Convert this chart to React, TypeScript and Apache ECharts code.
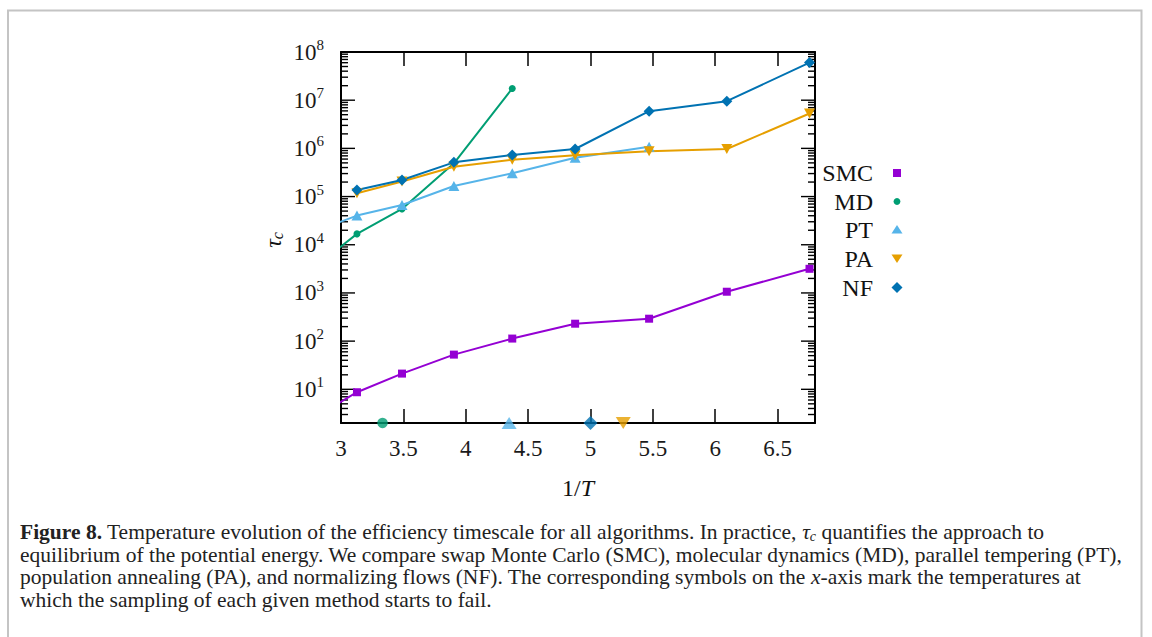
import React, { useEffect, useRef } from "react";
import * as echarts from "echarts";

// 1/T values of the temperature grid (first one lies left of the visible range)
const invT = [2.797, 3.128, 3.489, 3.905, 4.373, 4.877, 5.47, 6.093, 6.756];
const smcTau = [2.67, 8.7, 21.2, 52.5, 113, 230, 292, 1060, 3170];
const mdTau = [3550, 16800, 55400, 490000, 17500000];
const ptTau = [19200, 40300, 67000, 166000, 304000, 639000, 1080000];
const paTau = [null, 117000, 206000, 416000, 580000, 716000, 867000, 970000, 5300000];
const nfTau = [null, 137000, 220000, 513000, 727000, 970000, 5920000, 9530000, 60300000];
// temperatures (1/T) at which each method starts to fail
const failMD = 3.333;
const failPT = 4.348;
const failNF = 5.0;
const failPA = 5.263;

const xTickValues = [3, 3.5, 4, 4.5, 5, 5.5, 6, 6.5];
const yDecades = [0, 1, 2, 3, 4, 5, 6, 7, 8];

const C = {
  SMC: "#9400d3",
  MD: "#009e73",
  PT: "#56b4e9",
  PA: "#e69f00",
  NF: "#0072b2",
};
const SERIF = "Liberation Serif";

function pairs(vals: (number | null)[]) {
  const out: number[][] = [];
  vals.forEach((v, i) => {
    if (v != null) out.push([invT[i], v]);
  });
  return out;
}

// y-axis tick values (minor 2..9 and major decades) for log ticks
function yTickData() {
  const out: number[][] = [];
  yDecades.forEach((d) => {
    for (let m = 1; m <= 9; m++) {
      const v = m * Math.pow(10, d);
      if (v > 2.0001 && v < 0.9999e8) out.push([v, m === 1 ? 1 : 0]);
    }
  });
  return out;
}

export default function App() {
  const ref = useRef<HTMLDivElement>(null);
  useEffect(() => {
    if (!ref.current) return;
    const chart = echarts.init(ref.current, null, { renderer: "svg" });
    const lineSeries = (name: string, vals: (number | null)[], symbol: string, size: any, rotate = 0) => ({
      name,
      type: "line",
      data: pairs(vals),
      symbol,
      symbolSize: size,
      symbolRotate: rotate,
      showSymbol: true,
      showAllSymbol: true,
      clip: true,
      itemStyle: { color: (C as any)[name] },
      lineStyle: { color: (C as any)[name], width: 2 },
      z: 3,
    });
    const failSeries = (name: string, x: number, symbol: string, size: any, rotate = 0) => ({
      name: name + "-fail",
      type: "scatter",
      data: [[x, 2]],
      symbol,
      symbolSize: size,
      symbolRotate: rotate,
      clip: false,
      itemStyle: { color: (C as any)[name] },
      z: 6,
    });
    const legendRows = [
      { name: "SMC", y: 173 },
      { name: "MD", y: 201.5 },
      { name: "PT", y: 229.5 },
      { name: "PA", y: 258.5 },
      { name: "NF", y: 287.5 },
    ];
    const mx = 897;
    const captionLines = [
      "{b|Figure 8.} Temperature evolution of the efficiency timescale for all algorithms. In practice, {i|τ}{s|c} quantifies the approach to",
      "equilibrium of the potential energy. We compare swap Monte Carlo (SMC), molecular dynamics (MD), parallel tempering (PT),",
      "population annealing (PA), and normalizing flows (NF). The corresponding symbols on the {i|x}-axis mark the temperatures at",
      "which the sampling of each given method starts to fail.",
    ];
    const capY = [531.7, 554.5, 577.3, 600];
    const CAP = 21.5;
    const capRich = {
      b: { fontFamily: SERIF, fontSize: CAP, fontWeight: "bold", fill: "#222" },
      i: { fontFamily: SERIF, fontSize: CAP, fontStyle: "italic", fill: "#222" },
      s: { fontFamily: SERIF, fontSize: 14, fontStyle: "italic", fill: "#222", padding: [9, 0, 0, 0] },
    };

    const option: any = {
      animation: false,
      backgroundColor: "#ffffff",
      textStyle: { fontFamily: SERIF },
      grid: { left: 341, top: 52, width: 474, height: 371, containLabel: false },
      xAxis: [
        {
          type: "value",
          min: 3,
          max: 6.8,
          interval: 0.5,
          position: "bottom",
          axisLine: { show: true, onZero: false, lineStyle: { color: "#000", width: 2 } },
          axisTick: { show: true, inside: true, length: 14, lineStyle: { color: "#000", width: 1.5 } },
          splitLine: { show: false },
          axisLabel: {
            show: true,
            margin: 14,
            fontFamily: SERIF,
            fontSize: 23,
            color: "#1a1a1a",
            formatter: (v: number) => {
              const hit = xTickValues.find((t) => Math.abs(t - v) < 1e-6);
              return hit == null ? "" : String(hit);
            },
          },
        },
        {
          type: "value",
          min: 3,
          max: 6.8,
          interval: 0.5,
          position: "top",
          axisLine: { show: true, onZero: false, lineStyle: { color: "#000", width: 2 } },
          axisTick: { show: true, inside: true, length: 14, lineStyle: { color: "#000", width: 1.5 } },
          splitLine: { show: false },
          axisLabel: { show: false },
        },
      ],
      yAxis: [
        {
          type: "log",
          logBase: 10,
          min: 2,
          max: 1e8,
          position: "left",
          axisLine: { show: true, lineStyle: { color: "#000", width: 2 } },
          axisTick: { show: false },
          splitLine: { show: false },
          axisLabel: {
            margin: 17,
            color: "#1a1a1a",
            fontFamily: SERIF,
            fontSize: 23,
            formatter: (v: number) => {
              const l = Math.log10(v);
              const e = Math.round(l);
              if (Math.abs(l - e) > 1e-6 || !yDecades.includes(e) || e < 1) return "";
              return "{b|10}{s|" + e + "}";
            },
            rich: {
              b: { fontFamily: SERIF, fontSize: 23, color: "#1a1a1a" },
              s: { fontFamily: SERIF, fontSize: 15, color: "#1a1a1a", padding: [0, 0, 14, 0] },
            },
          },
        },
        {
          type: "log",
          logBase: 10,
          min: 2,
          max: 1e8,
          position: "right",
          axisLine: { show: true, lineStyle: { color: "#000", width: 2 } },
          axisTick: { show: false },
          splitLine: { show: false },
          axisLabel: { show: false },
        },
      ],
      series: [
        {
          name: "yticks",
          type: "custom",
          xAxisIndex: 0,
          yAxisIndex: 0,
          silent: true,
          data: yTickData(),
          z: 2,
          renderItem: (params: any, api: any) => {
            const v = api.value(0);
            const major = api.value(1) === 1;
            const p = api.coord([3, v]);
            const cs = params.coordSys;
            const len = major ? 14 : 7;
            const style = { stroke: "#000", lineWidth: 1.4 };
            return {
              type: "group",
              children: [
                { type: "line", shape: { x1: cs.x, y1: p[1], x2: cs.x + len, y2: p[1] }, style },
                { type: "line", shape: { x1: cs.x + cs.width - len, y1: p[1], x2: cs.x + cs.width, y2: p[1] }, style },
              ],
            };
          },
        },
        lineSeries("SMC", smcTau, "rect", 8),
        lineSeries("MD", mdTau, "circle", 7),
        lineSeries("PT", ptTau, "triangle", [11, 10]),
        lineSeries("PA", paTau, "triangle", [11, 10], 180),
        lineSeries("NF", nfTau, "diamond", 11),
        failSeries("MD", failMD, "circle", 10.5),
        failSeries("PT", failPT, "triangle", [15, 12]),
        failSeries("NF", failNF, "diamond", 14),
        failSeries("PA", failPA, "triangle", [15, 12], 180),
      ],
      graphic: [
        {
          type: "rect",
          silent: true,
          shape: { x: 8, y: 10.5, width: 1133.5, height: 720 },
          style: { fill: "none", stroke: "#c4c4c4", lineWidth: 2 },
        },
        {
          type: "text",
          x: 273,
          y: 240,
          rotation: Math.PI / 2,
          style: {
            text: "{a|τ}{b|c}",
            align: "center",
            verticalAlign: "middle",
            rich: {
              a: { fontFamily: SERIF, fontSize: 24, fontStyle: "italic", fill: "#111" },
              b: { fontFamily: SERIF, fontSize: 16, fontStyle: "italic", fill: "#111", padding: [8, 0, 0, 0] },
            },
          },
        },
        {
          type: "text",
          x: 578,
          y: 488,
          style: {
            text: "{a|1/}{b|T}",
            align: "center",
            verticalAlign: "middle",
            rich: {
              a: { fontFamily: SERIF, fontSize: 24, fill: "#111" },
              b: { fontFamily: SERIF, fontSize: 24, fontStyle: "italic", fill: "#111" },
            },
          },
        },
        ...legendRows.map((r) => ({
          type: "text",
          x: 873,
          y: r.y,
          style: {
            text: r.name,
            align: "right",
            verticalAlign: "middle",
            fontFamily: SERIF,
            fontSize: 24,
            fill: "#111",
          },
        })),
        { type: "rect", shape: { x: mx - 4, y: 169, width: 8, height: 8 }, style: { fill: C.SMC } },
        { type: "circle", shape: { cx: mx, cy: 201.5, r: 3.4 }, style: { fill: C.MD } },
        {
          type: "polygon",
          shape: { points: [[mx - 5.5, 233.5], [mx + 5.5, 233.5], [mx, 225]] },
          style: { fill: C.PT },
        },
        {
          type: "polygon",
          shape: { points: [[mx - 5.5, 254.5], [mx + 5.5, 254.5], [mx, 263]] },
          style: { fill: C.PA },
        },
        {
          type: "polygon",
          shape: { points: [[mx, 282], [mx + 5.5, 287.5], [mx, 293], [mx - 5.5, 287.5]] },
          style: { fill: C.NF },
        },
        ...captionLines.map((t, i) => ({
          type: "text",
          x: 20,
          y: capY[i],
          style: {
            text: t,
            align: "left",
            verticalAlign: "middle",
            fontFamily: SERIF,
            fontSize: CAP,
            fill: "#222",
            rich: capRich,
          },
        })),
      ],
    };
    chart.setOption(option);
    return () => chart.dispose();
  }, []);
  return (
    <div
      ref={ref}
      style={{ position: "absolute", left: 0, top: 0, width: 1152, height: 637, background: "#fff" }}
    />
  );
}
